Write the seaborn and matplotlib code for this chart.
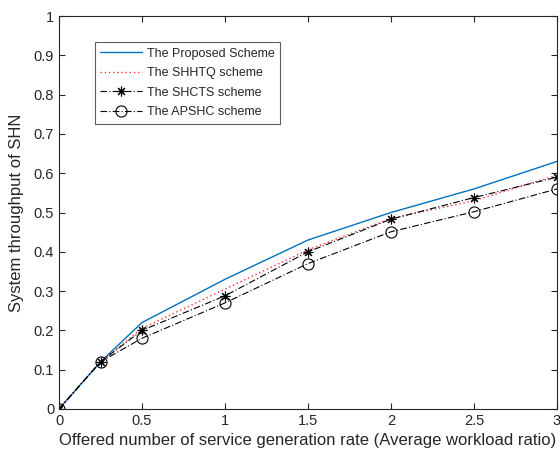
import pandas as pd
import matplotlib
matplotlib.use("Agg")
import matplotlib.pyplot as plt
import seaborn as sns

rate = [0, 0.25, 0.5, 1, 1.5, 2, 2.5, 3]
proposed = [0, 0.12, 0.22, 0.33, 0.43, 0.50, 0.56, 0.63]
shhtq = [0, 0.12, 0.205, 0.305, 0.405, 0.485, 0.53, 0.595]
shcts = [0, 0.12, 0.20, 0.288, 0.40, 0.483, 0.538, 0.59]
apshc = [0, 0.12, 0.18, 0.27, 0.37, 0.451, 0.502, 0.56]

names = ["The Proposed Scheme", "The SHHTQ scheme", "The SHCTS scheme", "The APSHC scheme"]
df = pd.DataFrame({"rate": rate * 4,
                   "value": proposed + shhtq + shcts + apshc,
                   "scheme": [n for n in names for _ in rate]})

sns.set_style("ticks")
plt.rcParams["font.family"] = ["Liberation Sans", "DejaVu Sans"]

fig = plt.figure(figsize=(5.6, 4.58), dpi=100)
ax = fig.add_axes([59 / 560, 1 - 409 / 458, 498 / 560, 393 / 458])

# matlab-like line specs
styles = {
    names[0]: dict(color="#0072BD", linestyle="-", marker=None, lw=1.0),
    names[1]: dict(color="#FF3030", linestyle=(0, (1, 2)), marker=None, lw=1.0),
    names[2]: dict(color="black", linestyle=(0, (6, 2, 1, 2)), marker=(8, 2, 0), lw=0.8),
    names[3]: dict(color="black", linestyle=(0, (6, 2, 1, 2)), marker="o", lw=0.8),
}
for n in names:
    s = styles[n]
    sns.lineplot(data=df[df.scheme == n], x="rate", y="value", ax=ax, label=n,
                 color=s["color"], linestyle=s["linestyle"], marker=s["marker"],
                 linewidth=s["lw"], markersize=8 if s["marker"] == "o" else 7,
                 markerfacecolor="none" if s["marker"] == "o" else "black",
                 markeredgecolor="black", markeredgewidth=0.8)

ax.set_xlim(0, 3)
ax.set_ylim(0, 1)
ax.set_xticks([0, 0.5, 1, 1.5, 2, 2.5, 3])
ax.set_xticklabels(["0", "0.5", "1", "1.5", "2", "2.5", "3"])
ax.set_yticks([i / 10 for i in range(11)])
ax.set_yticklabels(["0"] + [f"{i/10:.1f}" for i in range(1, 10)] + ["1"])
ax.tick_params(direction="in", length=4, labelsize=10.5, top=True, right=True,
               labeltop=False, labelright=False)
for sp in ax.spines.values():
    sp.set_linewidth(0.8)
    sp.set_visible(True)
ax.set_xlabel("Offered number of service generation rate (Average workload ratio)", fontsize=12, labelpad=4)
ax.set_ylabel("System throughput of SHN", fontsize=12, labelpad=7)

leg = ax.legend(loc="upper left", bbox_to_anchor=(0.072, 0.934), fontsize=9,
                frameon=True, fancybox=False, edgecolor="#333333", borderpad=0.45,
                labelspacing=0.6, handlelength=3.3, handletextpad=0.4, borderaxespad=0)
leg.get_frame().set_linewidth(0.8)

fig.savefig("out.png", dpi=100)
